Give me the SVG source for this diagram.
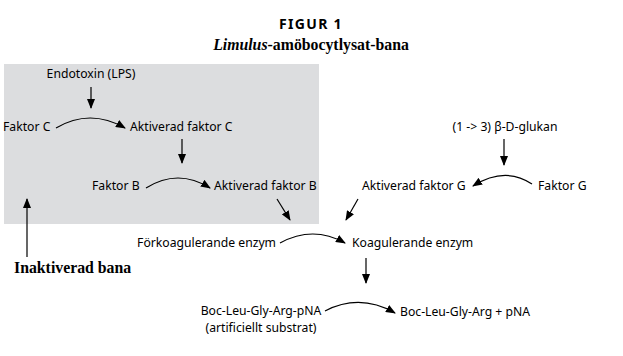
<svg xmlns="http://www.w3.org/2000/svg" width="623" height="356" viewBox="0 0 623 356">
<defs>
<marker id="ah" viewBox="0 0 10 8" refX="9" refY="4" markerWidth="10" markerHeight="8" markerUnits="userSpaceOnUse" orient="auto">
<path d="M0,0 L10,4 L0,8 z" fill="#000"/>
</marker>
<style>
.t{font-family:"Noto Sans","Open Sans",sans-serif;font-size:12.2px;fill:#000}
.h{font-family:"Liberation Serif","Times New Roman",serif;font-weight:bold;font-size:15.8px;fill:#000}
.c{fill:none;stroke:#000;stroke-width:1.2;marker-end:url(#ah)}
</style>
</defs>
<rect x="4" y="64" width="315" height="160" fill="#dcdddf"/>
<text x="311" y="29" text-anchor="middle" style="font-family:'Noto Sans','Open Sans',sans-serif;font-weight:bold;font-size:14px;letter-spacing:1.3px">FIGUR 1</text>
<text x="311" y="50" text-anchor="middle" class="h"><tspan font-style="italic">Limulus</tspan>-amöbocytlysat-bana</text>
<g id="connectors">
<path class="c" d="M91,87 L91,108"/>
<path class="c" d="M56,128 Q90,108 125,128"/>
<path class="c" d="M182,139 L182,163"/>
<path class="c" d="M146,188 Q178,168 210,188"/>
<path class="c" d="M277,199 L290,220"/>
<path class="c" d="M358,199 L346,220"/>
<path class="c" d="M280,243 Q313,225 345,243"/>
<path class="c" d="M366,258 L366,283"/>
<path class="c" d="M325,311 Q360,293 395,313"/>
<path class="c" d="M504,139 L504,165"/>
<path class="c" d="M532,184 Q505,166 473,186"/>
<path class="c" d="M27,257 L27,199"/>
</g>
<g id="endotoxin"><text class="t" x="91" y="78" text-anchor="middle">Endotoxin (LPS)</text></g>
<g id="faktorC"><text class="t" x="3" y="131">Faktor C</text></g>
<g id="aktC"><text class="t" x="130" y="131">Aktiverad faktor C</text></g>
<g id="faktorB"><text class="t" x="92" y="190">Faktor B</text></g>
<g id="aktB"><text class="t" x="214" y="190">Aktiverad faktor B</text></g>
<g id="glukan"><text class="t" x="505" y="131" text-anchor="middle">(1 -&gt; 3) β-D-glukan</text></g>
<g id="aktG"><text class="t" x="362" y="190">Aktiverad faktor G</text></g>
<g id="faktorG"><text class="t" x="538" y="190">Faktor G</text></g>
<g id="forkoag"><text class="t" x="276" y="247" text-anchor="end">Förkoagulerande enzym</text></g>
<g id="koag"><text class="t" x="352" y="247">Koagulerande enzym</text></g>
<g id="boc"><text class="t" x="261" y="315" text-anchor="middle">Boc-Leu-Gly-Arg-pNA</text><text class="t" x="261" y="332" text-anchor="middle">(artificiellt substrat)</text></g>
<g id="prod"><text class="t" x="400" y="316">Boc-Leu-Gly-Arg + pNA</text></g>
<g id="inakt"><text class="h" x="14" y="273">Inaktiverad bana</text></g>
</svg>
